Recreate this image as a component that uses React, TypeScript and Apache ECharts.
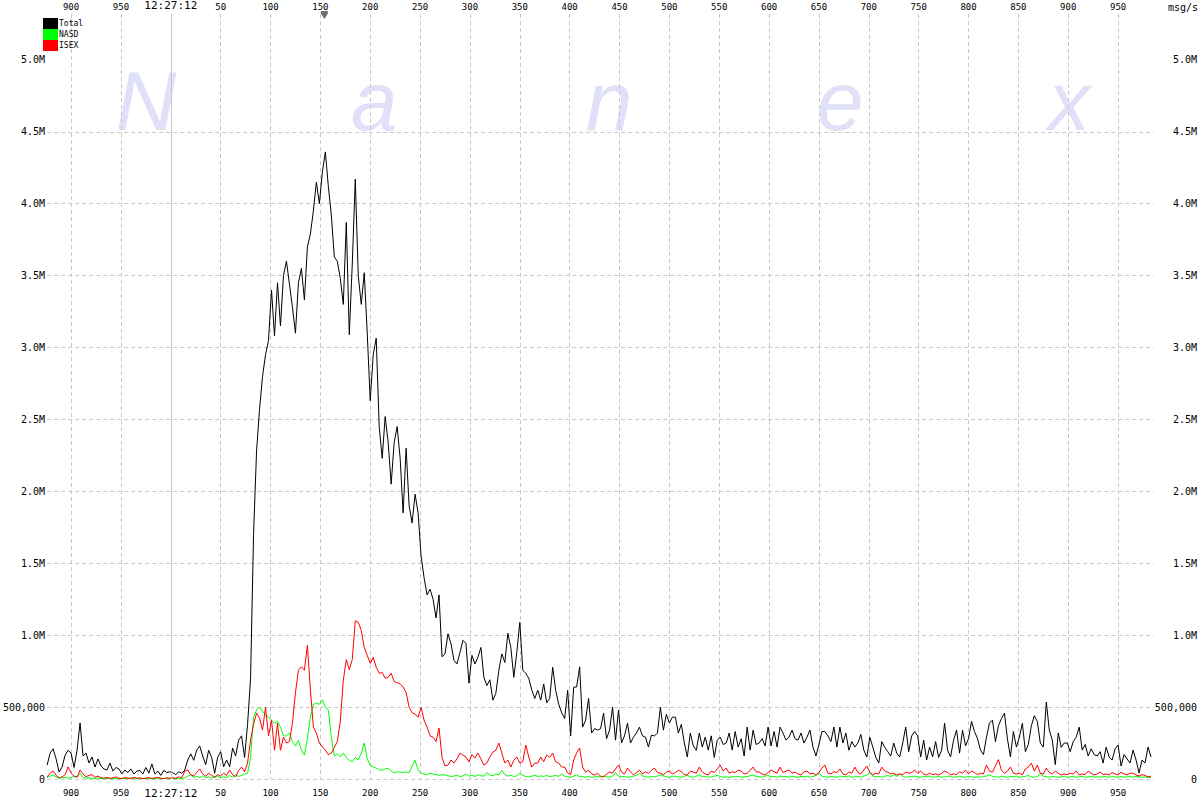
import React, { useEffect, useRef } from "react";
import * as echarts from "echarts";

// time axis: offset in seconds from 12:27:12, one sample every 3 units
const T_START = -124;
const T_STEP = 3;
const T_MIN = -124;
const T_MAX = 986;
const Y_MAX = 5319; // thousands of msg/s at top of plot
const PEAK_T = 154;

const X_TICKS = [-100, -50, 0, 50, 100, 150, 200, 250, 300, 350, 400, 450, 500, 550, 600, 650, 700, 750, 800, 850, 900, 950];
const X_TICK_LABELS = ["900", "950", "12:27:12", "50", "100", "150", "200", "250", "300", "350", "400", "450", "500", "550", "600", "650", "700", "750", "800", "850", "900", "950"];
const Y_TICKS = [0, 500, 1000, 1500, 2000, 2500, 3000, 3500, 4000, 4500, 5000];
const Y_TICK_LABELS = ["0", "500,000", "1.0M", "1.5M", "2.0M", "2.5M", "3.0M", "3.5M", "4.0M", "4.5M", "5.0M"];

const SERIES_NAMES = ["Total", "NASD", "ISEX"];
const SERIES_COLORS = ["#000000", "#00ff00", "#ff0000"];

// values in thousands of messages per second
const TOTAL = [
  97, 180, 210, 140, 48, 83, 165, 200, 180, 80,
  200, 390, 160, 180, 111, 153, 83, 140, 90, 70,
  62, 110, 55, 80, 70, 35, 62, 45, 70, 35,
  55, 60, 35, 80, 40, 105, 35, 55, 25, 60,
  45, 50, 45, 30, 50, 40, 62, 132, 175, 130,
  200, 230, 160, 100, 200, 150, 40, 150, 190, 85,
  132, 85, 215, 160, 270, 300, 150, 380, 700, 1700,
  2280, 2570, 2800, 2950, 3050, 3400, 3080, 3450, 3150, 3500,
  3600, 3440, 3280, 3100, 3450, 3550, 3330, 3700, 3790, 3950,
  4150, 4000, 4220, 4360, 4120, 3920, 3630, 3600, 3480, 3300,
  3870, 3090, 3580, 4170, 3500, 3300, 3520, 3100, 2630, 2950,
  3065, 2450, 2230, 2520, 2340, 2050, 2340, 2450, 2230, 1850,
  2300, 1900, 1780, 1980, 1850, 1550, 1400, 1280, 1320, 1250,
  1120, 1280, 850, 870, 1010, 940, 825, 800, 880, 964,
  943, 666, 860, 800, 846, 915, 707, 650, 690, 548,
  596, 756, 870, 810, 1013, 915, 707, 880, 1089, 756,
  735, 700, 620, 560, 617, 548, 660, 530, 560, 777,
  617, 520, 460, 420, 617, 300, 638, 640, 780, 361,
  409, 560, 320, 350, 340, 350, 458, 280, 340, 499,
  270, 479, 250, 300, 388, 250, 291, 320, 361, 300,
  291, 222, 305, 300, 319, 499, 340, 450, 390, 430,
  430, 319, 380, 250, 153, 319, 230, 200, 320, 222,
  291, 201, 300, 150, 270, 291, 240, 250, 320, 201,
  330, 222, 280, 160, 361, 201, 340, 240, 250, 280,
  230, 361, 230, 330, 222, 361, 319, 270, 291, 340,
  280, 270, 320, 250, 291, 340, 222, 160, 240, 330,
  330, 300, 260, 361, 222, 361, 250, 319, 200, 260,
  222, 250, 310, 201, 153, 291, 222, 150, 111, 260,
  220, 190, 160, 250, 180, 153, 250, 361, 190, 300,
  330, 300, 153, 270, 132, 222, 153, 260, 150, 200,
  388, 200, 153, 270, 340, 180, 340, 230, 280, 400,
  330, 280, 200, 170, 291, 388, 409, 260, 370, 420,
  458, 280, 153, 330, 222, 291, 388, 190, 240, 370,
  440, 400, 250, 222, 535, 340, 270, 100, 320, 220,
  250, 250, 190, 260, 291, 361, 201, 240, 160, 210,
  170, 160, 190, 111, 222, 153, 132, 210, 236, 90,
  170, 140, 111, 201, 132, 42, 132, 111, 222, 153,
];

const NASD = [
  10, 20, 28, 15, 5, 8, 12, 5, 10, 20, 15, 40, 12, 5, 8,
  5, 3, 8, 2, 5, 3, 6, 2, 4, 3, 5, 2, 4, 6, 3, 2, 5, 3, 4, 2, 3, 5, 2, 4, 3, 6, 2, 3, 4, 2, 5,
  8, 20, 28, 12, 18, 10, 22, 8, 15, 6, 12, 20, 8, 15, 10, 25, 12, 30, 18, 25, 35,
  40, 150, 430,
  479, 500, 470, 450, 430, 409, 388, 400, 360, 300,
  300, 320, 260, 230, 270, 201, 166, 280, 430, 520,
  525, 520, 550, 500, 479, 291, 160, 175, 155, 180,
  150, 130, 120, 150, 132, 180, 250, 140, 95, 85,
  75, 65, 60, 70, 76, 55, 42, 50, 48, 45,
  50, 42, 90, 130, 62, 40, 35, 30, 40, 35,
  30, 25, 30, 28, 22, 18,
  20, 28, 15, 22, 35, 20, 25, 18, 30, 22, 20, 45, 28, 22, 35,
  28, 60, 30, 20, 25, 18, 22, 40, 25, 18, 15, 20, 28, 15, 22, 18, 25, 15, 20, 25,
  18, 35, 20, 15, 12, 20, 28, 15, 18, 12, 20, 10, 15, 18, 12, 20, 15, 12, 20, 45,
  20, 15, 18, 12, 15, 20, 25, 40, 22, 15, 12, 18, 15, 20, 28, 22, 15, 12, 18, 20,
  15, 12, 18, 25, 15, 12, 20, 28, 15, 18, 12, 15, 20, 25, 18, 12, 15, 10, 18, 15,
  20, 12, 15, 18, 22, 28, 18, 15, 12, 20, 25, 15, 18, 12, 20, 15, 18, 12, 20, 15,
  12, 18, 15, 20, 12, 18, 25, 40, 20, 15, 12, 18, 15, 12, 20, 18, 15, 22, 12, 15,
  18, 12, 20, 28, 45, 20, 15, 18, 12, 20, 25, 15, 30, 18, 35, 20, 12, 15, 18, 20,
  15, 12, 18, 15, 20, 12, 15, 18, 12, 15, 20, 18, 12, 15, 20, 15, 12, 18, 15, 12,
  15, 12, 18, 20, 30, 18, 15, 12, 20, 15, 12, 18, 15, 20, 12, 15, 18, 25, 15, 12,
  18, 35, 20, 15, 12, 18, 15, 12, 15, 20, 12, 15, 18, 12, 15, 20, 12, 15, 18, 12,
  15, 12, 18, 15, 12, 20, 15, 12, 18, 12, 15, 20, 12, 18, 15, 12, 15, 10, 12,
];

const ISEX = [
  14, 40, 55, 25, 8, 15, 30, 85, 40, 20, 12, 62, 35, 15, 25, 30, 12, 20, 8,
  5, 12, 4, 8, 15, 5, 3, 10, 6, 4, 12, 5, 8, 3, 6, 10, 4, 7, 12, 5, 3, 8, 6, 10, 4, 15, 8,
  55, 62, 30, 20, 45, 70, 35, 20, 40, 25, 12, 30, 20, 40, 25, 62, 30, 15, 60, 83, 50, 111, 270,
  380, 458, 423, 340, 499, 300, 409, 200, 388, 200, 291,
  250, 260, 388, 600, 756, 780, 756, 930, 620, 361,
  319, 250, 222, 201, 170, 180, 220, 260, 400, 687,
  830, 760, 830, 1100, 1090, 1033, 915, 860, 804, 846,
  777, 735, 740, 700, 707, 735, 677, 670, 660, 640,
  600, 499, 460, 450, 430, 499, 409, 361, 300, 291,
  260, 354, 150, 90, 97, 132, 111, 140, 180, 166,
  153, 118, 170, 146, 180, 140, 97, 111, 153, 187,
  201, 250, 180, 111, 132, 83, 130, 153, 111, 120,
  236, 153, 83, 111, 111, 153, 120, 166, 150, 180,
  120, 111, 83, 83, 42, 30, 132, 180, 215, 83,
  48, 62, 35, 28, 40, 20, 14, 35, 48, 40,
  70, 97, 48, 35, 76, 50, 28, 45, 62, 35,
  50, 40, 60, 76, 45, 40, 30, 48, 55, 35,
  45, 62, 50, 30, 28, 55, 48, 40, 83, 50,
  35, 28, 55, 45, 70, 97, 55, 76, 40, 50,
  45, 62, 55, 35, 40, 60, 83, 50, 48, 35,
  28, 45, 62, 50, 40, 83, 45, 55, 62, 40,
  48, 35, 28, 50, 55, 35, 40, 28, 45, 76,
  97, 40, 35, 50, 45, 70, 35, 28, 50, 40,
  83, 45, 35, 62, 90, 48, 28, 40, 35, 83,
  55, 48, 35, 40, 28, 35, 30, 48, 40, 45,
  62, 40, 55, 35, 28, 40, 30, 35, 28, 40,
  55, 45, 28, 35, 30, 50, 40, 62, 35, 55,
  45, 30, 40, 35, 97, 55, 48, 90, 135, 60,
  40, 55, 83, 40, 35, 40, 30, 70, 83, 111,
  55, 97, 40, 35, 76, 45, 35, 55, 40, 28,
  35, 30, 40, 35, 55, 28, 35, 30, 55, 40,
  28, 35, 48, 30, 35, 28, 45, 35, 28, 48,
  35, 28, 40, 40, 28, 20, 30, 25, 14, 20,
];

const WATERMARK = ["N", "a", "n", "e", "x"];
const WATERMARK_X = [146, 374, 609, 840, 1069];

const MONO = "DejaVu Sans Mono";
const GRID_COLOR = "#c8c8c8";

function toPairs(values: number[]) {
  return values.map((v, i) => [T_START + i * T_STEP, v]);
}

function xLabel(v: number) {
  const i = X_TICKS.indexOf(v);
  if (i < 0) return "";
  const s = X_TICK_LABELS[i];
  return v === 0 ? "{big|" + s + "}" : s;
}

function yLabel(v: number) {
  const i = Y_TICKS.indexOf(v);
  return i < 0 ? "" : Y_TICK_LABELS[i];
}

export default function App() {
  const ref = useRef<HTMLDivElement>(null);

  useEffect(() => {
    if (!ref.current) return;
    const chart = echarts.init(ref.current, null, { renderer: "svg" });
    const richBig = { big: { fontFamily: MONO, fontSize: 11, color: "#000" } };
    const xAxisCommon = {
      type: "value",
      min: T_MIN,
      max: T_MAX,
      axisLine: { show: false },
      axisTick: { show: false, customValues: X_TICKS },
    };
    const yAxisCommon = {
      type: "value",
      min: 0,
      max: Y_MAX,
      axisLine: { show: false },
      axisTick: { show: false, customValues: Y_TICKS },
    };
    const datasets = [TOTAL, NASD, ISEX];
    const option: any = {
      animation: false,
      backgroundColor: "#ffffff",
      grid: { left: 45, right: 45, top: 12, bottom: 21, containLabel: false },
      legend: {
        data: SERIES_NAMES,
        orient: "vertical",
        left: 43,
        top: 18,
        padding: 0,
        itemGap: 0,
        itemWidth: 15,
        itemHeight: 11,
        icon: "rect",
        selectedMode: false,
        textStyle: { fontFamily: MONO, fontSize: 8, color: "#000", lineHeight: 11, padding: [0, 0, 0, -4] },
      },
      xAxis: [
        {
          ...xAxisCommon,
          position: "bottom",
          splitLine: { show: true, lineStyle: { color: GRID_COLOR, type: [4, 3], width: 1 } },
          axisLabel: {
            customValues: X_TICKS,
            formatter: xLabel,
            margin: 9,
            fontFamily: MONO,
            fontSize: 9,
            color: "#000",
            rich: richBig,
          },
        },
        {
          ...xAxisCommon,
          position: "top",
          splitLine: { show: false },
          axisLabel: {
            customValues: X_TICKS,
            formatter: xLabel,
            margin: 3,
            fontFamily: MONO,
            fontSize: 9,
            color: "#000",
            rich: richBig,
          },
        },
      ],
      yAxis: [
        {
          ...yAxisCommon,
          position: "left",
          splitLine: { show: true, showMaxLine: false, lineStyle: { color: GRID_COLOR, type: [4, 3], width: 1 } },
          axisLabel: { customValues: Y_TICKS, formatter: yLabel, margin: 2, fontFamily: MONO, fontSize: 10, color: "#000" },
        },
        {
          ...yAxisCommon,
          position: "right",
          splitLine: { show: false },
          axisLabel: {
            customValues: Y_TICKS,
            formatter: yLabel,
            margin: 43,
            align: "right",
            fontFamily: MONO,
            fontSize: 10,
            color: "#000",
          },
        },
      ],
      graphic: [
        ...WATERMARK.map((ch, i) => ({
          type: "text",
          z: -10,
          silent: true,
          x: WATERMARK_X[i],
          y: 101,
          style: {
            text: ch,
            font: 'italic 84px "Liberation Sans"',
            fill: "#e0e1f9",
            align: "center",
            verticalAlign: "middle",
          },
        })),
        {
          type: "text",
          right: 2,
          top: 2,
          silent: true,
          style: { text: "msg/s", font: '10px "DejaVu Sans Mono"', fill: "#000" },
        },
      ],
      series: datasets.map((vals, si) => ({
        name: SERIES_NAMES[si],
        type: "line",
        xAxisIndex: 0,
        yAxisIndex: 0,
        data: toPairs(vals),
        showSymbol: false,
        symbol: "none",
        silent: true,
        color: SERIES_COLORS[si],
        lineStyle: { color: SERIES_COLORS[si], width: 1 },
        ...(si === 0
          ? {
              markLine: {
                silent: true,
                symbol: ["none", "none"],
                label: { show: false },
                lineStyle: { color: GRID_COLOR, type: "solid", width: 1 },
                data: [{ xAxis: 0 }],
              },
              markPoint: {
                silent: true,
                symbol: "path://M0,0L8,0L8,3L4,9L0,3Z",
                symbolSize: [7, 8],
                symbolOffset: [0, 1],
                itemStyle: { color: "#707070" },
                label: { show: false },
                data: [{ coord: [PEAK_T, Y_MAX] }],
              },
            }
          : {}),
      })),
    };
    chart.setOption(option);
    return () => chart.dispose();
  }, []);

  return (
    <div
      ref={ref}
      style={{ position: "fixed", left: 0, top: 0, width: 1200, height: 800, background: "#fff" }}
    />
  );
}
